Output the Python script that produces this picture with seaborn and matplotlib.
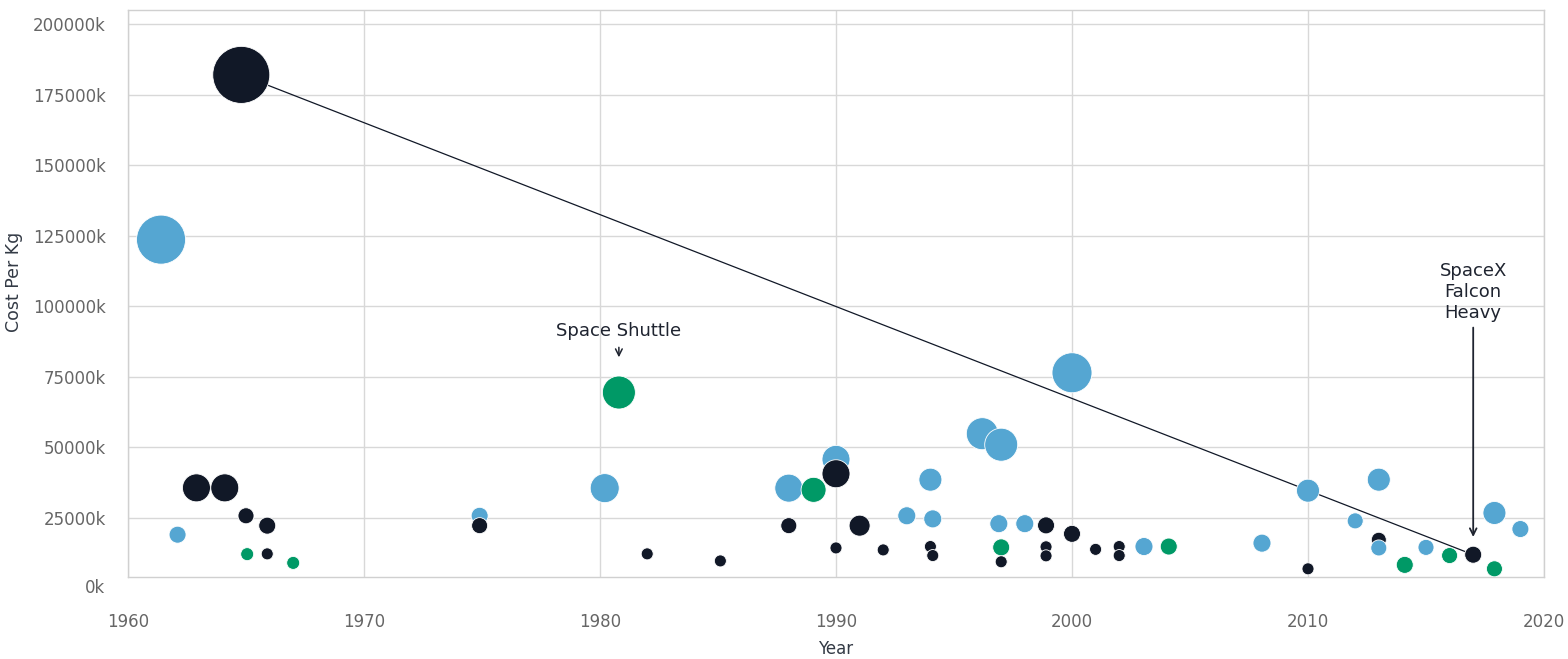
import numpy as np
import pandas as pd
import matplotlib
matplotlib.use("Agg")
import matplotlib.pyplot as plt
import seaborn as sns

# ---------------- data ----------------
years = [1961.4, 1962.1, 1962.9, 1964.1, 1964.8, 1965.0, 1965.05, 1965.9, 1965.9, 1967.0,
         1974.9, 1974.9, 1980.2, 1980.8, 1982.0, 1985.1, 1988.0, 1988.0, 1989.05, 1990.0,
         1990.0, 1990.0, 1991.0, 1992.0, 1993.0, 1994.0, 1994.1, 1994.0, 1994.1, 1996.2,
         1997.0, 1996.9, 1997.0, 1997.0, 1998.0, 1998.9, 1998.9, 1998.9, 2000.0, 2000.0,
         2001.0, 2002.0, 2002.0, 2003.05, 2004.1, 2008.05, 2010.0, 2010.0, 2012.0, 2013.0,
         2013.0, 2013.0, 2014.1, 2015.0, 2016.0, 2017.0, 2017.9, 2017.9, 2019.0]
cost_k = [123600, 19000, 35600, 35600, 182000, 25700, 12100, 22200, 12200, 9000,
          25700, 22200, 35500, 69400, 12200, 9700, 35500, 22200, 34900, 45700,
          40600, 14300, 22200, 13600, 25700, 38500, 24600, 14800, 11600, 54800,
          50900, 22900, 14500, 9400, 22900, 22300, 14700, 11500, 76400, 19300,
          13800, 14800, 11600, 14800, 14800, 16000, 34600, 6900, 23900, 38500,
          17200, 14300, 8300, 14500, 11600, 11900, 26700, 6900, 21000]
group = ["B", "B", "A", "A", "A", "A", "C", "A", "A", "C",
         "B", "A", "B", "C", "A", "A", "B", "A", "C", "B",
         "A", "A", "A", "A", "B", "B", "B", "A", "A", "B",
         "B", "B", "C", "A", "B", "A", "A", "A", "B", "A",
         "A", "A", "A", "B", "C", "B", "B", "A", "B", "B",
         "A", "B", "C", "B", "C", "A", "B", "C", "B"]
payload = [16.7, 2.0, 5.44, 5.44, 22.6, 1.78, 1.17, 2.0, 1.0, 1.17,
           2.0, 1.78, 5.84, 7.56, 1.0, 1.0, 5.44, 1.78, 4.34, 5.44,
           5.44, 1.0, 3.06, 1.0, 2.25, 3.67, 2.25, 1.0, 1.0, 7.11,
           7.56, 2.25, 2.0, 1.0, 2.25, 2.0, 1.0, 1.0, 11.1, 2.0,
           1.0, 1.0, 1.0, 2.25, 2.0, 2.25, 3.67, 1.0, 1.78, 3.67,
           1.56, 1.78, 2.0, 1.78, 1.78, 2.0, 3.67, 1.78, 2.0]

annot_labels = ["Space Shuttle", "SpaceX\nFalcon\nHeavy"]
annot_years = [1980.8, 2017.0]
annot_groups = ["C", "A"]

y_ticks = [0, 25000, 50000, 75000, 100000, 125000, 150000, 175000, 200000]
x_ticks = [1960, 1970, 1980, 1990, 2000, 2010, 2020]

df = pd.DataFrame({"Year": years, "Cost": cost_k, "group": group, "payload": payload})

# ---------------- style ----------------
DARK = "#111827"
BLUE = "#55A6D2"
GREEN = "#009966"
palette = {"A": DARK, "B": BLUE, "C": GREEN}
TICK_C = "#666666"
LABEL_C = "#333a45"
ANNOT_C = "#1f2430"

sns.set_theme(style="whitegrid")
plt.rcParams["font.family"] = ["DejaVu Sans"]

fig = plt.figure(figsize=(15.68, 6.59), dpi=100)
ax = fig.add_axes([128 / 1568, 1 - 577 / 659, (1544 - 128) / 1568, (577 - 10) / 659])

# trend line between the most expensive launch and Falcon Heavy
i_max = df["Cost"].idxmax()
i_fh = df.index[(df["Year"] == annot_years[1]) & (df["group"] == annot_groups[1])][0]
trend = df.loc[[i_max, i_fh]]
sns.lineplot(data=trend, x="Year", y="Cost", color=DARK, lw=0.9, ax=ax,
             legend=False, sort=False, zorder=2)

d_min_area = (12 * 0.72) ** 2
sns.scatterplot(data=df, x="Year", y="Cost", hue="group", palette=palette,
                size="payload", sizes=(d_min_area, d_min_area * 22.6),
                size_norm=(1.0, 22.6), edgecolor="white", linewidth=0.6,
                alpha=1, legend=False, ax=ax, zorder=3)

ax.set_xlim(1960, 2020)
ax.set_ylim(4000, 205000)
ax.set_xticks(x_ticks)
inner = [t for t in y_ticks if 4000 < t < 205000]
ax.set_yticks(inner)
ax.set_yticklabels([f"{t}k" for t in inner])

ax.grid(True, color="#d8d8d8", lw=1)
for s in ax.spines.values():
    s.set_visible(True)
    s.set_color("#d0d0d0")
    s.set_linewidth(1)

ax.tick_params(axis="both", length=0, labelsize=12, colors=TICK_C)
ax.tick_params(axis="x", pad=26)
ax.tick_params(axis="y", pad=16)

# tick labels lying outside the plotted range (as in the reference)
for t in y_ticks:
    if t not in inner:
        ax.text(-23 / 1416, t, f"{t}k", transform=ax.get_yaxis_transform(),
                ha="right", va="center", fontsize=12, color=TICK_C, clip_on=False)

ax.set_xlabel("Year", fontsize=12, color=LABEL_C)
ax.set_ylabel("Cost Per Kg", fontsize=12.5, color=LABEL_C)
ax.xaxis.set_label_coords(0.5, -0.111)
ax.yaxis.set_label_coords(-0.0745, 0.52)

# annotations
i_ss = df.index[(df["Year"] == annot_years[0]) & (df["group"] == annot_groups[0])][0]
ss_y = df.loc[i_ss, "Cost"]
ax.text(annot_years[0], ss_y + 21800, annot_labels[0], ha="center", va="center",
        fontsize=13, color=ANNOT_C)
ax.annotate("", xy=(annot_years[0], ss_y + 11500), xytext=(annot_years[0], ss_y + 17000),
            arrowprops=dict(arrowstyle="->", color=ANNOT_C, lw=1.1))

fh_y = df.loc[i_fh, "Cost"]
ax.text(annot_years[1], fh_y + 93100, annot_labels[1], ha="center", va="center",
        fontsize=13, color=ANNOT_C, linespacing=1.2)
ax.annotate("", xy=(annot_years[1], fh_y + 5300), xytext=(annot_years[1], fh_y + 81500),
            arrowprops=dict(arrowstyle="->", color=ANNOT_C, lw=1.3))

fig.savefig("out.png", dpi=100)
